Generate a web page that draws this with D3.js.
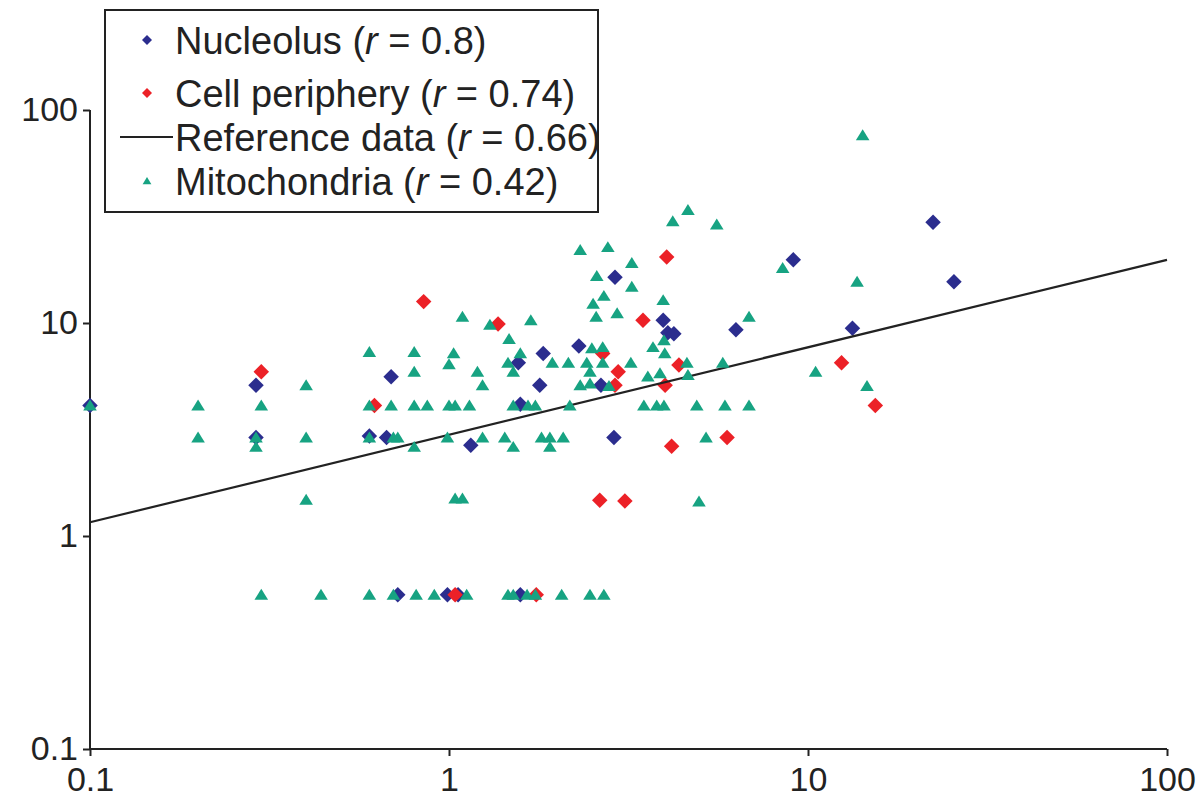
<!DOCTYPE html>
<html>
<head>
<meta charset="utf-8">
<script src="https://cdn.jsdelivr.net/npm/d3@7/dist/d3.min.js"></script>
<style>
body {margin: 0; background: #fff;}
text {font-family: "Liberation Sans", Arial, Helvetica, sans-serif; fill: #222;}
.axis path, .axis line {stroke: #222; stroke-width: 2;}
</style>
</head>
<body>
<svg width="1202" height="801"></svg>
<script>
// ---- data ----
var nucleolus = [
  [0.1,4.1],[0.29,5.1],[0.29,2.9],[0.69,5.6],[0.6,2.95],[0.67,2.9],[1.15,2.67],
  [1.58,4.15],[1.56,6.5],[1.79,5.1],[1.83,7.2],[2.3,7.8],[2.65,5.1],[2.88,2.9],
  [2.9,16.4],[3.95,10.3],[4.07,9.0],[4.23,8.9],[6.3,9.3],[9.1,19.8],[13.3,9.45],
  [22.3,29.7],[25.5,15.6],[0.72,0.53],[0.99,0.53],[1.06,0.53],[1.58,0.53]
];
var cellPeriphery = [
  [0.3,5.9],[0.62,4.1],[0.85,12.6],[1.37,9.9],[2.68,7.2],[2.96,5.9],[2.9,5.1],
  [4.04,20.4],[3.47,10.3],[4.37,6.35],[4.0,5.1],[2.63,1.47],[3.09,1.46],[4.17,2.64],
  [5.95,2.9],[12.4,6.5],[15.4,4.1],[1.04,0.53],[1.75,0.53]
];
var mitochondria = [
  [0.1,4.1],[0.2,4.1],[0.2,2.9],[0.3,4.1],[0.29,2.9],[0.29,2.62],[0.3,0.53],
  [0.4,5.1],[0.4,2.9],[0.4,1.48],[0.44,0.53],[0.6,7.3],[0.6,4.1],[0.6,2.9],[0.6,0.53],
  [0.7,2.9],[0.72,2.9],[0.69,4.1],[0.7,0.53],[0.8,7.3],[0.8,5.9],[0.8,4.1],[0.8,2.62],
  [0.81,0.53],[0.87,4.1],[0.91,0.53],[0.99,2.9],[1.0,4.1],[1.04,4.1],[1.03,7.2],[1.0,6.4],
  [1.09,10.7],[1.04,1.5],[1.09,1.5],[1.12,0.53],[1.14,4.1],[1.2,5.9],[1.24,5.1],[1.24,2.9],
  [1.3,9.8],[1.43,2.9],[1.51,2.62],[1.46,6.5],[1.51,5.9],[1.58,7.2],[1.47,8.4],
  [1.51,4.1],[1.66,4.1],[1.74,4.1],[1.69,10.3],[1.46,0.53],[1.51,0.53],[1.65,0.53],[1.74,0.53],
  [1.81,2.9],[1.91,2.9],[2.08,2.9],[1.91,2.62],[2.06,0.53],
  [1.94,6.5],[2.15,6.5],[2.42,6.5],[2.68,6.5],[3.21,6.5],[2.17,4.1],[2.47,5.9],
  [2.32,5.1],[2.47,5.2],[2.79,5.06],[2.5,7.6],[2.68,7.7],[2.52,12.3],[2.57,10.7],[2.94,11.1],
  [2.47,0.53],[2.7,0.53],[2.32,22.0],[2.77,22.7],[3.23,19.1],[2.58,16.6],[3.23,14.8],
  [2.7,13.4],[3.95,12.8],[6.85,10.7],[3.7,7.7],[3.97,8.3],[3.99,7.2],[4.6,6.5],[5.79,6.5],
  [3.58,5.6],[3.87,5.8],[4.63,5.7],[10.5,5.9],[3.49,4.1],[3.79,4.1],[3.97,4.1],
  [4.9,4.1],[5.87,4.1],[6.85,4.1],[5.2,2.9],[4.97,1.45],[14.2,76],[4.63,33.9],[4.2,30],
  [5.57,29],[8.5,18.1],[13.7,15.6],[14.6,5.06]
];
var refLine = [[0.1,1.16],[100,19.8]];
var tickValues = [0.1, 1, 10, 100];
var legendItems = [
  {name: "Nucleolus", r: "0.8", kind: "diamond", color: "#2b2d8e"},
  {name: "Cell periphery", r: "0.74", kind: "diamond", color: "#ec2127"},
  {name: "Reference data", r: "0.66", kind: "line", color: "#222"},
  {name: "Mitochondria", r: "0.42", kind: "triangle", color: "#17a382"}
];

var svg = d3.select("svg");
var x = d3.scaleLog().domain([0.1, 100]).range([90, 1167]);
var y = d3.scaleLog().domain([0.1, 100]).range([749, 110]);

var fmt = function(d) { return d < 1 ? "0.1" : String(d); };

// axes
svg.append("g").attr("class", "axis")
  .attr("transform", "translate(0,749)")
  .call(d3.axisBottom(x).tickValues(tickValues).tickFormat(fmt).tickSize(7).tickSizeOuter(0))
  .call(function(g) { g.selectAll("text").attr("font-size", 34).attr("dy", "0.95em"); g.select(".domain").attr("d", "M90,0H1167"); });

svg.append("g").attr("class", "axis")
  .attr("transform", "translate(90,0)")
  .call(d3.axisLeft(y).tickValues(tickValues).tickFormat(fmt).tickSize(7).tickSizeOuter(0))
  .call(function(g) { g.selectAll("text").attr("font-size", 34).attr("x", -12); g.select(".domain").attr("d", "M0,110V749"); });

svg.selectAll(".axis text").style("font-family", "'Liberation Sans', Arial, sans-serif").attr("fill", "#222");

// symbols
var diamond = {draw: function(ctx, size) {
  var r = Math.sqrt(size / 2);
  ctx.moveTo(0, -r); ctx.lineTo(r, 0); ctx.lineTo(0, r); ctx.lineTo(-r, 0); ctx.closePath();
}};
var triangle = {draw: function(ctx, size) {
  var h = Math.sqrt(size) * 1.0, w = h * 0.62;
  ctx.moveTo(0, -h * 0.55); ctx.lineTo(w, h * 0.45); ctx.lineTo(-w, h * 0.45); ctx.closePath();
}};

function drawSeries(data, type, size, color) {
  svg.append("g").selectAll("path")
    .data(data)
    .enter()
    .append("path")
      .attr("d", d3.symbol().type(type).size(size))
      .attr("transform", function(d) { return "translate(" + x(d[0]) + "," + y(d[1]) + ")"; })
      .attr("fill", color);
}

drawSeries(nucleolus, diamond, 120, legendItems[0].color);
drawSeries(cellPeriphery, diamond, 120, legendItems[1].color);

svg.append("path")
  .datum(refLine)
  .attr("d", d3.line().x(function(d) { return x(d[0]); }).y(function(d) { return y(d[1]); }))
  .attr("fill", "none").attr("stroke", "#222").attr("stroke-width", 2.2);

drawSeries(mitochondria, triangle, 120, legendItems[3].color);

// legend
var lg = svg.append("g");
lg.append("rect").attr("x", 105).attr("y", 10).attr("width", 493).attr("height", 202)
  .attr("fill", "#fff").attr("stroke", "#222").attr("stroke-width", 2);
var rowY = [40, 93, 137, 181];
legendItems.forEach(function(it, i) {
  if (it.kind === "line") {
    lg.append("line").attr("x1", 120).attr("x2", 173).attr("y1", rowY[i]).attr("y2", rowY[i])
      .attr("stroke", "#222").attr("stroke-width", 2);
  } else {
    lg.append("path")
      .attr("d", d3.symbol().type(it.kind === "diamond" ? diamond : triangle).size(50))
      .attr("transform", "translate(147," + rowY[i] + ")")
      .attr("fill", it.color);
  }
  var t = lg.append("text").attr("x", 175).attr("y", rowY[i]).attr("dy", "0.36em").attr("font-size", 38);
  t.append("tspan").text(it.name + " (");
  t.append("tspan").attr("font-style", "italic").text("r");
  t.append("tspan").text(" = " + it.r + ")");
});
</script>
</body>
</html>
